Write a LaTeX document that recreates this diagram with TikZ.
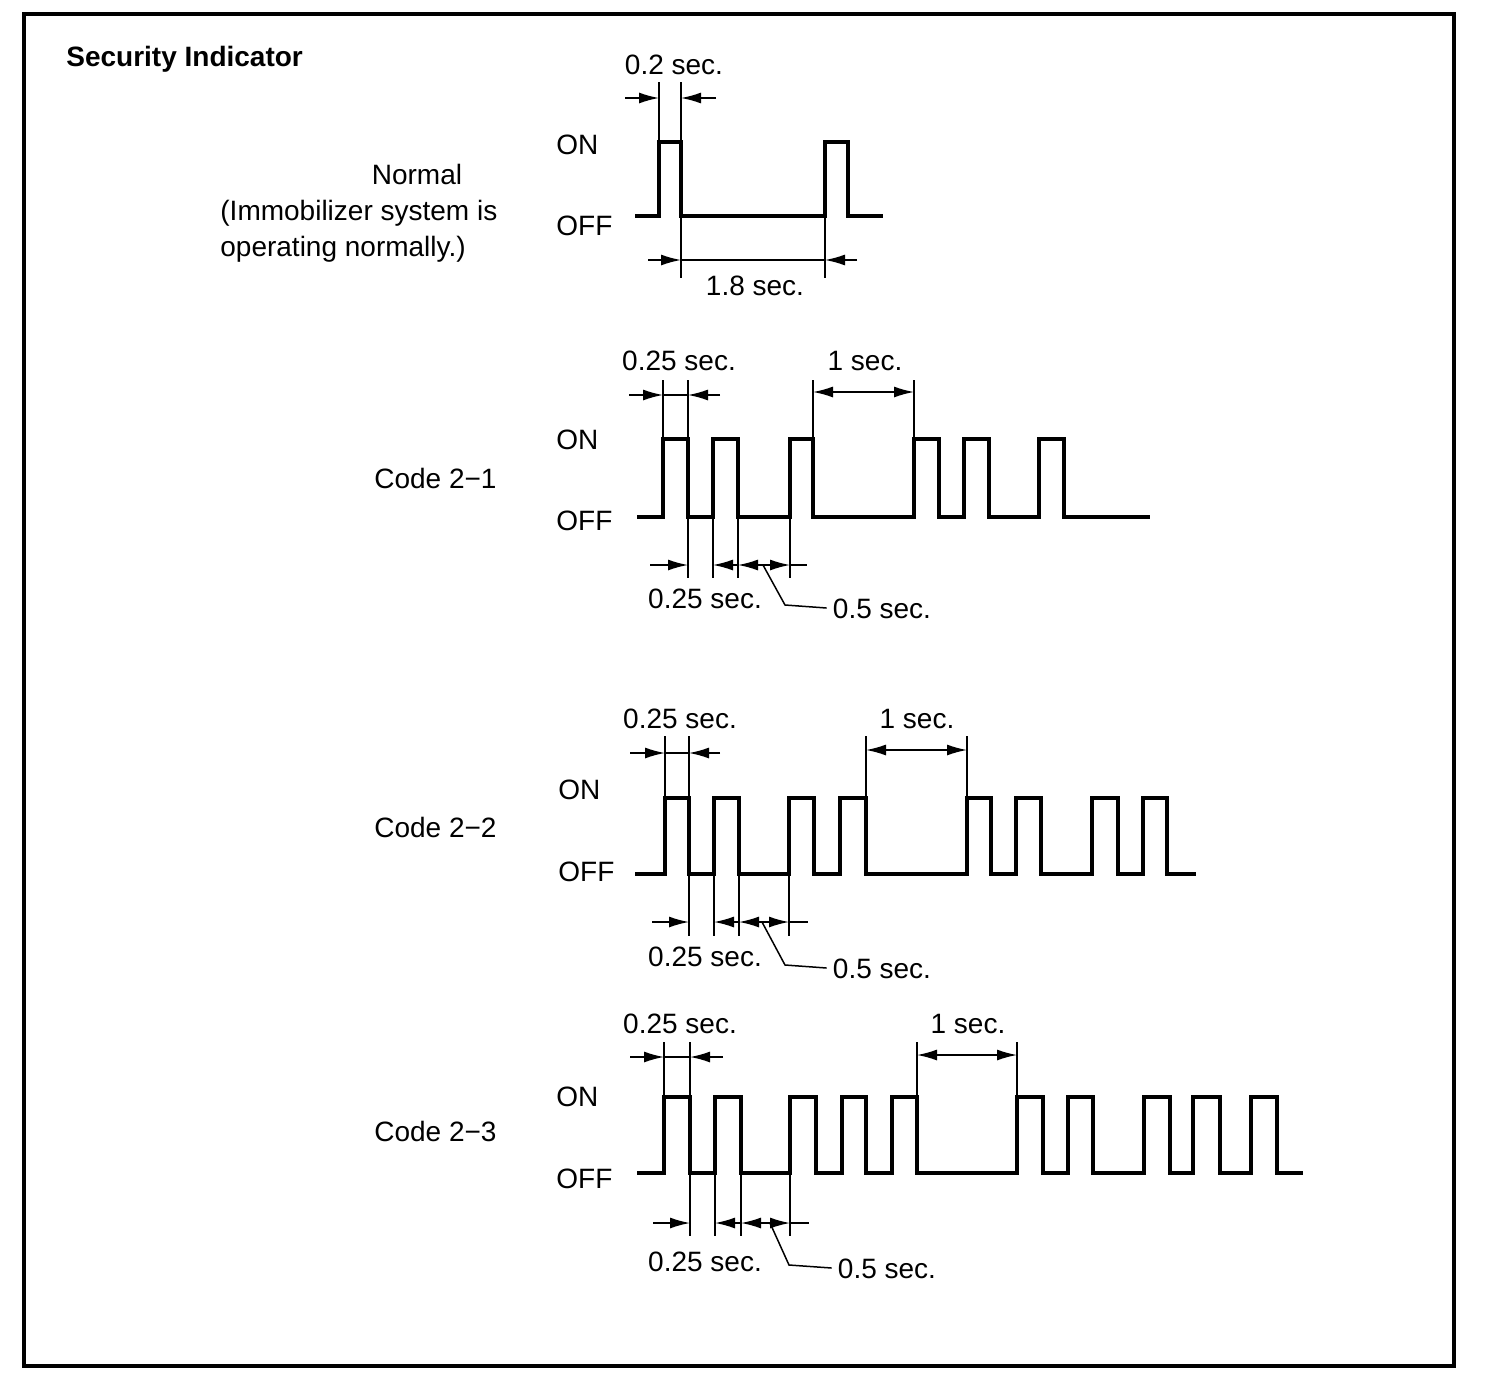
\documentclass[tikz,border=0pt]{standalone}
\usepackage{fontspec}
\setmainfont{Liberation Sans}
\usetikzlibrary{arrows.meta}

\begin{document}
\begin{tikzpicture}[x=0.5pt,y=-0.5pt,
    wave/.style={line width=1.7pt,line join=miter},
    dim/.style={line width=0.75pt},
    tip/.style={-{Latex[length=10pt,width=5.5pt]}},
    tips/.style={{Latex[length=10pt,width=5.5pt]}-{Latex[length=10pt,width=5.5pt]}},
    lbl/.style={font=\fontsize{14}{16}\selectfont,inner sep=0pt,text height=10pt,text depth=0pt}]
    \useasboundingbox (0,0) rectangle (1504,1376);
    \draw[line width=1.6pt] (24,14) rectangle (1454,1366);
    \node[lbl,anchor=west,font=\fontsize{14}{16}\selectfont\bfseries] (title) at (66,56) {Security Indicator};

    % normal
    \node[lbl] (nrm) at (417,174) {Normal};
    \node[lbl,anchor=west] (nrma) at (220,210) {(Immobilizer system is};
    \node[lbl,anchor=west] (nrmb) at (220,246) {operating normally.)};
    \node[lbl,anchor=west] (on0) at (556,144) {ON};
    \node[lbl,anchor=west] (off0) at (556,225) {OFF};
    \draw[wave] (635,216) foreach \a/\b in {659/681,825/848} { -- (\a,216) -- (\a,142) -- (\b,142) -- (\b,216) } -- (883,216);
    \draw[dim] (659,82) -- (659,142);
    \draw[dim] (681,82) -- (681,278);
    \draw[dim] (825,142) -- (825,278);
    \draw[dim,tip] (625,98) -- (659,98);
    \draw[dim,tip] (716,98) -- (681,98);
    \draw[dim,tip] (648,260) -- (681,260);
    \draw[dim,tip] (857,260) -- (825,260);
    \draw[dim] (681,260) -- (825,260);
    \node[lbl] (d0a) at (674,64) {0.2 sec.};
    \node[lbl] (d0b) at (755,285) {1.8 sec.};

    % code 2-1
    \node[lbl,anchor=east] (c21) at (497,478) {Code 2−1};
    \node[lbl,anchor=west] (on1) at (556,439) {ON};
    \node[lbl,anchor=west] (off1) at (556,520) {OFF};
    \draw[wave] (637,517) foreach \a/\b in {663/688,713/738,790/813,914/939,964/989,1039/1064} { -- (\a,517) -- (\a,439) -- (\b,439) -- (\b,517) } -- (1150,517);
    \draw[dim] (663,380) -- (663,439);
    \draw[dim] (688,380) -- (688,578);
    \draw[dim] (813,380) -- (813,439);
    \draw[dim] (914,380) -- (914,439);
    \draw[dim] (713,517) -- (713,578);
    \draw[dim] (738,517) -- (738,578);
    \draw[dim] (790,517) -- (790,578);
    \draw[dim,tip] (629,395) -- (663,395);
    \draw[dim,tip] (720,395) -- (688,395);
    \draw[dim] (663,395) -- (688,395);
    \draw[dim,tips] (813,392) -- (914,392);
    \draw[dim,tip] (650,565) -- (688,565);
    \draw[dim,tip] (738,565) -- (713,565);
    \draw[dim,tips] (738,565) -- (790,565);
    \draw[dim] (790,565) -- (807,565);
    \node[lbl] (t21a) at (679,360) {0.25 sec.};
    \node[lbl] (t21b) at (865,360) {1 sec.};
    \node[lbl] (b21a) at (705,598) {0.25 sec.};
    \node[lbl] (b21b) at (882,608) {0.5 sec.};
    \draw[dim] (763,565) -- (785,605) -- ([xshift=-3pt]b21b.west);

    % code 2-2
    \node[lbl,anchor=east] (c22) at (497,827) {Code 2−2};
    \node[lbl,anchor=west] (on2) at (558,789) {ON};
    \node[lbl,anchor=west] (off2) at (558,871) {OFF};
    \draw[wave] (635,874) foreach \a/\b in {665/689,714/739,789/814,840/866,967/991,1016/1041,1092/1118,1143/1167} { -- (\a,874) -- (\a,798) -- (\b,798) -- (\b,874) } -- (1196,874);
    \draw[dim] (665,736) -- (665,798);
    \draw[dim] (689,736) -- (689,936);
    \draw[dim] (866,736) -- (866,798);
    \draw[dim] (967,736) -- (967,798);
    \draw[dim] (714,874) -- (714,936);
    \draw[dim] (739,874) -- (739,936);
    \draw[dim] (789,874) -- (789,936);
    \draw[dim,tip] (630,753) -- (665,753);
    \draw[dim,tip] (720,753) -- (689,753);
    \draw[dim] (665,753) -- (689,753);
    \draw[dim,tips] (866,750) -- (967,750);
    \draw[dim,tip] (652,922) -- (689,922);
    \draw[dim,tip] (739,922) -- (714,922);
    \draw[dim,tips] (739,922) -- (789,922);
    \draw[dim] (789,922) -- (808,922);
    \node[lbl] (t22a) at (680,718) {0.25 sec.};
    \node[lbl] (t22b) at (917,718) {1 sec.};
    \node[lbl] (b22a) at (705,956) {0.25 sec.};
    \node[lbl] (b22b) at (882,968) {0.5 sec.};
    \draw[dim] (762,922) -- (785,965) -- ([xshift=-3pt]b22b.west);

    % code 2-3
    \node[lbl,anchor=east] (c23) at (497,1131) {Code 2−3};
    \node[lbl,anchor=west] (on3) at (556,1096) {ON};
    \node[lbl,anchor=west] (off3) at (556,1178) {OFF};
    \draw[wave] (637,1173) foreach \a/\b in {664/690,715/741,790/816,842/866,892/917,1017/1043,1068/1093,1144/1170,1193/1220,1251/1277} { -- (\a,1173) -- (\a,1097) -- (\b,1097) -- (\b,1173) } -- (1303,1173);
    \draw[dim] (664,1042) -- (664,1097);
    \draw[dim] (690,1042) -- (690,1236);
    \draw[dim] (917,1042) -- (917,1097);
    \draw[dim] (1017,1042) -- (1017,1097);
    \draw[dim] (715,1173) -- (715,1236);
    \draw[dim] (741,1173) -- (741,1236);
    \draw[dim] (790,1173) -- (790,1236);
    \draw[dim,tip] (630,1057) -- (664,1057);
    \draw[dim,tip] (723,1057) -- (690,1057);
    \draw[dim] (664,1057) -- (690,1057);
    \draw[dim,tips] (917,1055) -- (1017,1055);
    \draw[dim,tip] (653,1223) -- (690,1223);
    \draw[dim,tip] (741,1223) -- (715,1223);
    \draw[dim,tips] (741,1223) -- (790,1223);
    \draw[dim] (790,1223) -- (809,1223);
    \node[lbl] (t23a) at (680,1023) {0.25 sec.};
    \node[lbl] (t23b) at (968,1023) {1 sec.};
    \node[lbl] (b23a) at (705,1261) {0.25 sec.};
    \node[lbl] (b23b) at (887,1268) {0.5 sec.};
    \draw[dim] (770,1223) -- (789,1265) -- ([xshift=-3pt]b23b.west);
\end{tikzpicture}
\end{document}
